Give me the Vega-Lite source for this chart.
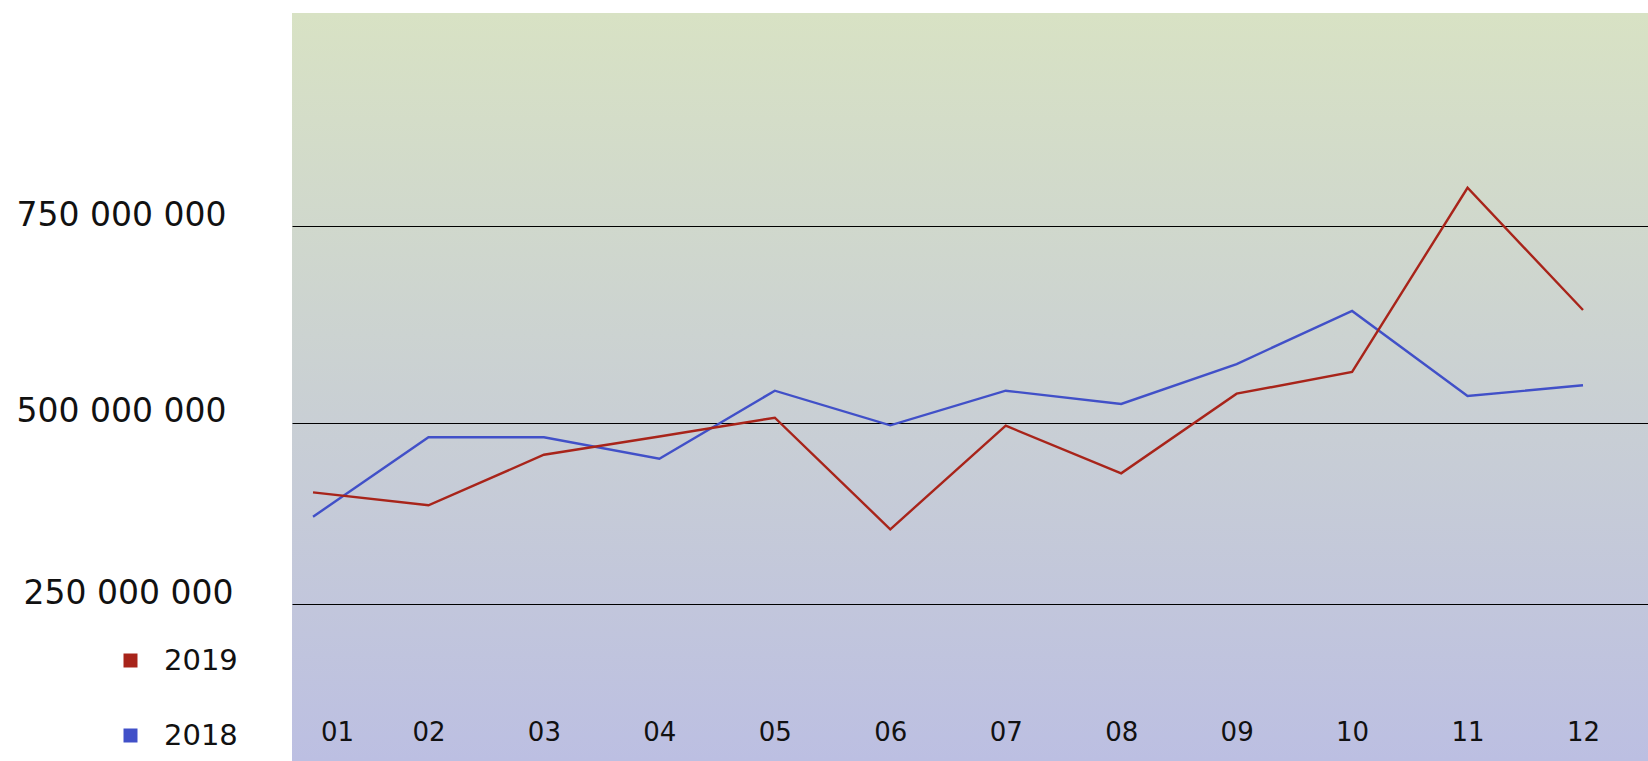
{
  "$schema": "https://vega.github.io/schema/vega-lite/v6.json",
  "autosize": {"type": "none"},
  "padding": {"left": 292, "top": 13, "right": 0, "bottom": 0},
  "width": 1356,
  "height": 748,
  "background": "#ffffff",
  "config": {
    "view": {
      "stroke": null,
      "fill": {"gradient": "linear", "x1": 0, "y1": 0, "x2": 0, "y2": 1,
        "stops": [{"offset": 0, "color": "#d8e2c4"}, {"offset": 1, "color": "#bcbfe2"}]}
    },
    "font": "DejaVu Sans"
  },
  "data": {"values": [
    {"month": 1, "year": "2018", "value": 373700000},
    {"month": 2, "year": "2018", "value": 480700000},
    {"month": 3, "year": "2018", "value": 480700000},
    {"month": 4, "year": "2018", "value": 452200000},
    {"month": 5, "year": "2018", "value": 541800000},
    {"month": 6, "year": "2018", "value": 496500000},
    {"month": 7, "year": "2018", "value": 541800000},
    {"month": 8, "year": "2018", "value": 524500000},
    {"month": 9, "year": "2018", "value": 576300000},
    {"month": 10, "year": "2018", "value": 644000000},
    {"month": 11, "year": "2018", "value": 534900000},
    {"month": 12, "year": "2018", "value": 548800000},
    {"month": 1, "year": "2019", "value": 407000000},
    {"month": 2, "year": "2019", "value": 389400000},
    {"month": 3, "year": "2019", "value": 457600000},
    {"month": 4, "year": "2019", "value": 481700000},
    {"month": 5, "year": "2019", "value": 506500000},
    {"month": 6, "year": "2019", "value": 356400000},
    {"month": 7, "year": "2019", "value": 496000000},
    {"month": 8, "year": "2019", "value": 432700000},
    {"month": 9, "year": "2019", "value": 537900000},
    {"month": 10, "year": "2019", "value": 566000000},
    {"month": 11, "year": "2019", "value": 797400000},
    {"month": 12, "year": "2019", "value": 645200000}
  ]},
  "mark": {"type": "line", "strokeWidth": 2.4},
  "encoding": {
    "x": {
      "field": "month", "type": "quantitative",
      "scale": {"domain": [0.818, 12.563], "nice": false, "zero": false},
      "axis": {
        "title": null, "values": [1,2,3,4,5,6,7,8,9,10,11,12],
        "labelExpr": "datum.value < 10 ? '0' + datum.value : '' + datum.value",
        "grid": false, "domain": false, "ticks": false,
        "labelFont": "DejaVu Sans", "labelFontSize": 26, "labelColor": "#111111",
        "labelPadding": -29, "labelBaseline": "middle", "labelFlush": false,
        "labelOffset": {"condition": {"test": "datum.value == 1", "value": 24}, "value": 0}
      }
    },
    "y": {
      "field": "value", "type": "quantitative",
      "scale": {"type": "pow", "exponent": 1.15, "domain": [-19000000, 1007800000], "nice": false, "zero": false},
      "axis": {
        "title": null, "values": [250000000, 500000000, 750000000],
        "labelExpr": "replace(format(datum.value, ','), regexp(',', 'g'), ' ')",
        "grid": true, "gridColor": "#000000", "gridWidth": 1, "gridOpacity": 1,
        "domain": false, "ticks": false, "labelLimit": 0,
        "labelFont": "DejaVu Sans", "labelFontSize": 33, "labelColor": "#111111",
        "labelAlign": "left", "labelBaseline": "middle",
        "labelPadding": {"condition": {"test": "datum.value == 250000000", "value": 269}, "value": 276},
        "labelOffset": -11
      }
    },
    "color": {
      "field": "year", "type": "nominal",
      "scale": {"domain": ["2019", "2018"], "range": ["#a8241a", "#4150c8"]},
      "legend": {
        "title": null, "orient": "none", "legendX": -176, "legendY": 633,
        "padding": 0, "symbolType": "square", "symbolSize": 196,
        "symbolStrokeWidth": 0, "labelOffset": 19, "rowPadding": 45,
        "labelFont": "DejaVu Sans", "labelFontSize": 29, "labelColor": "#111111",
        "encode": {"symbols": {"update": {"fill": {"scale": "color", "field": "value"}, "stroke": {"value": "transparent"}}}}
      }
    }
  }
}
